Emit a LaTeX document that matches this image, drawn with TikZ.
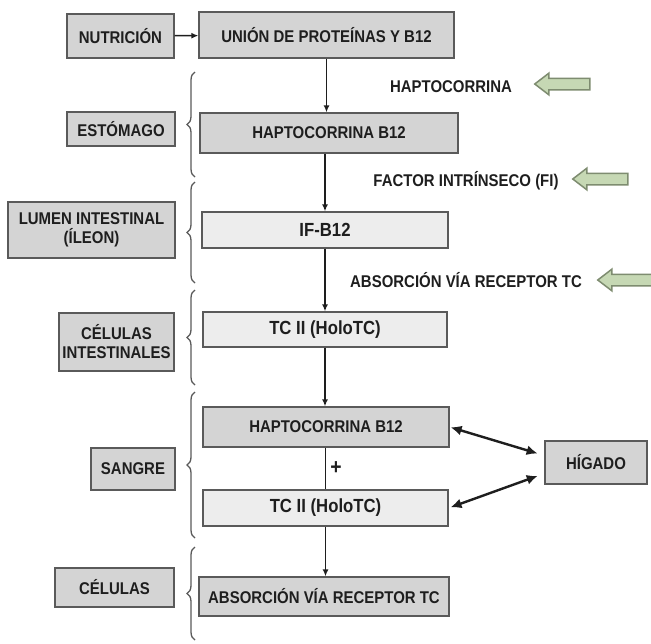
\documentclass[tikz,border=0pt]{standalone}
\usepackage{fontspec}
\setmainfont[FakeStretch=0.88]{Liberation Sans}
\usetikzlibrary{arrows.meta,decorations.pathreplacing,shapes.arrows}
\definecolor{boxdark}{HTML}{D4D4D4}
\definecolor{boxlight}{HTML}{EDEDED}
\definecolor{boxline}{HTML}{5A5A5A}
\definecolor{txt}{HTML}{1E1E1E}
\definecolor{leaf}{HTML}{C6D8B4}
\definecolor{leafline}{HTML}{7E8C70}
\tikzset{
  box/.style={draw=boxline, fill=boxdark, line width=1.3pt, text=txt, align=center,
    inner sep=0pt, font=\fontsize{17}{19}\selectfont\bfseries},
  lightbox/.style={box, fill=boxlight, font=\fontsize{19}{19}\selectfont\bfseries},
  lbl/.style={text=txt, inner sep=0pt, font=\fontsize{17}{19}\selectfont\bfseries},
  flow/.style={-{Latex[length=7pt,width=6pt]}, line width=1.5pt, draw=txt},
  both/.style={{Latex[length=11pt,width=10pt]}-{Latex[length=11pt,width=10pt]},
    line width=2.4pt, draw=txt},
  grp/.style={decorate, decoration={brace,amplitude=8pt}, line width=1.3pt, draw=boxline},
  leftarrow/.style={single arrow, shape border rotate=180, draw=leafline, fill=leaf,
    line width=1.5pt, inner sep=5pt, single arrow head extend=5pt,
    single arrow tip angle=75, minimum height=55pt}
}
\begin{document}
\begin{tikzpicture}[x=1pt,y=-1pt]
  \clip (0,0) rectangle (651,643);
  \fill[white] (0,0) rectangle (651,643);

  \node[box, minimum width=107pt, minimum height=44pt] (nutri) at (120.5,36) {NUTRICIÓN};
  \node[box, minimum width=255pt, minimum height=46pt] (union) at (326.5,35) {UNIÓN DE PROTEÍNAS Y B12};
  \node[box, minimum width=108pt, minimum height=34pt] (estom) at (121,129) {ESTÓMAGO};
  \node[box, minimum width=258pt, minimum height=40pt] (hapto) at (329,133) {HAPTOCORRINA B12};
  \node[box, minimum width=167pt, minimum height=56pt] (lumen) at (91.5,230) {LUMEN INTESTINAL\\(ÍLEON)};
  \node[lightbox, minimum width=246pt, minimum height=36pt] (ifb) at (325,230) {IF-B12};
  \node[box, minimum width=115pt, minimum height=58pt] (celint) at (116.5,342) {CÉLULAS\\INTESTINALES};
  \node[lightbox, minimum width=244pt, minimum height=35pt] (tca) at (325,329.5) {TC II (HoloTC)};
  \node[box, minimum width=246pt, minimum height=40pt] (haptob) at (326,427) {HAPTOCORRINA B12};
  \node[box, minimum width=84pt, minimum height=42pt] (sangre) at (133,469) {SANGRE};
  \node[lightbox, minimum width=245pt, minimum height=36pt] (tcb) at (325.5,508) {TC II (HoloTC)};
  \node[box, minimum width=102pt, minimum height=43pt] (higado) at (596,462.5) {HÍGADO};
  \node[box, minimum width=119pt, minimum height=39pt] (celul) at (114.5,587.5) {CÉLULAS};
  \node[box, minimum width=250pt, minimum height=39pt] (absor) at (324,596.5) {ABSORCIÓN VÍA RECEPTOR TC};

  \node[lbl] (lhapto) at (451,87) {HAPTOCORRINA};
  \node[lbl] (lfi) at (466,181) {FACTOR INTRÍNSECO (FI)};
  \node[lbl] (labs) at (466,280) {ABSORCIÓN VÍA RECEPTOR TC};
  \node[leftarrow] (ga) at (566,84) {};
  \node[leftarrow] (gb) at (604,179) {};
  \node[leftarrow] (gc) at (629,280) {};

  \draw[flow] (nutri) -- (union);
  \draw[flow] (union.south) -- (union.south |- hapto.north);
  \draw[flow] (ifb.north |- hapto.south) -- (ifb.north);
  \draw[flow] (ifb.south) -- (tca.north);
  \draw[flow] (tca.south) -- (tca.south |- haptob.north);
  \draw[line width=1.5pt, draw=txt] (tcb.north |- haptob.south) -- (tcb.north);
  \node[lbl, font=\fontsize{22}{22}\selectfont\bfseries] (plus) at (336,468) {+};
  \draw[flow] (tcb.south) -- (tcb.south |- absor.north);
  \draw[both, shorten <=1pt, shorten >=7pt] (haptob.east) -- ([yshift=7pt]higado.west);
  \draw[both, shorten <=7pt, shorten >=2pt] ([yshift=-11pt]higado.west) -- (tcb.east);

  \draw[grp] (195,177) -- (195,72);
  \draw[grp] (195,283) -- (195,182);
  \draw[grp] (195,385) -- (195,290);
  \draw[grp] (195,538) -- (195,392);
  \draw[grp] (195,640) -- (195,547);
\end{tikzpicture}
\end{document}
